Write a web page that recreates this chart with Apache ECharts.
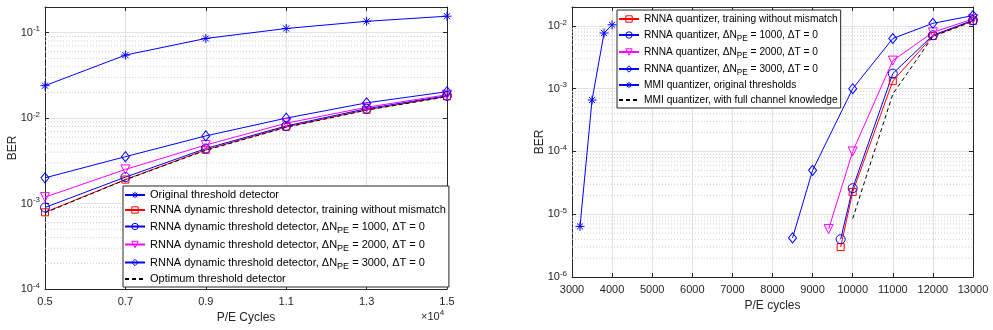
<!DOCTYPE html>
<html>
<head>
<meta charset="utf-8">
<script src="https://cdn.jsdelivr.net/npm/echarts@6/dist/echarts.min.js"></script>
<style>
  html, body { margin: 0; padding: 0; background: #fff; }
  #chart { width: 993px; height: 330px; }
</style>
</head>
<body>
<div id="chart"></div>
<script>
// left panel: detectors
var peLeft = [5000, 7000, 9000, 11000, 13000, 15000];
var berOrig = [0.024, 0.0547, 0.0857, 0.112, 0.136, 0.156];
var berTrain = [0.00079, 0.00191, 0.00426, 0.0079, 0.0125, 0.018];
var ber1000 = [0.0009, 0.00204, 0.00441, 0.0081, 0.0129, 0.0183];
var ber2000 = [0.00119, 0.00251, 0.00485, 0.00873, 0.0134, 0.0188];
var ber3000 = [0.0020, 0.00354, 0.0062, 0.0100, 0.0151, 0.0204];
var berOpt = [0.00078, 0.0019, 0.0042, 0.0078, 0.0124, 0.0178];

// right panel: quantizers
var qTrainPE = [9700, 10000, 11000, 12000, 13000];
var qTrain = [3.0e-6, 2.26e-5, 1.32e-3, 6.9e-3, 0.012];
var q1000PE = [9700, 10000, 11000, 12000, 13000];
var q1000 = [4.0e-6, 2.6e-5, 1.74e-3, 7.1e-3, 0.0123];
var q2000PE = [9400, 10000, 11000, 12000, 13000];
var q2000 = [5.8e-6, 1.0e-4, 2.8e-3, 7.9e-3, 0.0129];
var q3000PE = [8500, 9000, 10000, 11000, 12000, 13000];
var q3000 = [4.2e-6, 5.0e-5, 1.0e-3, 6.3e-3, 0.011, 0.0146];
var mmiOrigPE = [3200, 3500, 3800, 4000];
var mmiOrig = [6.4e-6, 6.6e-4, 7.7e-3, 0.0104];
var mmiFullPE = [10000, 11000, 12000, 13000];
var mmiFull = [8.5e-6, 8.2e-4, 6.8e-3, 0.0118];

var leftNames = [
  'Original threshold detector',
  'RNNA dynamic threshold detector, training without mismatch',
  'RNNA dynamic threshold detector, \u0394N_PE = 1000, \u0394T = 0',
  'RNNA dynamic threshold detector, \u0394N_PE = 2000, \u0394T = 0',
  'RNNA dynamic threshold detector, \u0394N_PE = 3000, \u0394T = 0',
  'Optimum threshold detector'
];
var rightNames = [
  'RNNA quantizer, training without mismatch',
  'RNNA quantizer, \u0394N_PE = 1000, \u0394T = 0',
  'RNNA quantizer, \u0394N_PE = 2000, \u0394T = 0',
  'RNNA quantizer, \u0394N_PE = 3000, \u0394T = 0',
  'MMI quantizer, original thresholds',
  'MMI quantizer, with full channel knowledge'
];

var FONT = 'Liberation Sans, Arial, Helvetica, sans-serif';
var AX = '#262626';
var BLUE = '#0000ff', RED = '#ff0000', MAG = '#ff00ff', BLK = '#000000';
var NOFILL = 'rgba(0,0,0,0)';
var STAR = 'path://M5,0L5,10M0,5L10,5M1.6,1.6L8.4,8.4M1.6,8.4L8.4,1.6';

function pairs(xs, ys) {
  return xs.map(function (x, i) { return [x, ys[i]]; });
}

// dotted minor grid at 2..9 x 10^e, drawn across the axis range
function minorGrid(xi, xmin, xmax, lo, hi, ymax) {
  var out = [];
  for (var e = lo; e < hi; e++) {
    for (var m = 2; m <= 9; m++) {
      var v = m * Math.pow(10, e);
      if (v >= ymax) continue;
      out.push({
        type: 'line', xAxisIndex: xi, yAxisIndex: xi * 2,
        data: [[xmin, v], [xmax, v]], symbol: 'none', silent: true,
        lineStyle: { color: '#cdcdcd', width: 1, type: [1, 2] },
        emphasis: { disabled: true }, z: 1, animation: false
      });
    }
  }
  return out;
}

function powLabel(v) {
  var e = Math.round(Math.log10(v));
  if (Math.abs(Math.log10(v) - e) > 1e-6) return '';
  return '10{sup|' + e + '}';
}

var labelRich = { sup: { fontSize: 8, fontFamily: FONT, color: AX, padding: [0, 0, 7, 0] } };

function legendFmt(name) {
  return name.replace('N_PE', 'N{sub|PE}');
}

function lineSeries(name, data, color, symbol, opts, xi) {
  var s = {
    name: name, type: 'line', data: data,
    xAxisIndex: xi, yAxisIndex: xi * 2,
    symbol: symbol, symbolSize: opts.size || 8,
    lineStyle: { color: color, width: 1, type: opts.dash ? [4, 3] : 'solid' },
    itemStyle: { color: NOFILL, borderColor: color, borderWidth: 1 },
    showSymbol: symbol !== 'none',
    emphasis: { disabled: true },
    z: 3,
    animation: false
  };
  if (opts.rotate) s.symbolRotate = opts.rotate;
  return s;
}

function baseX(grid, min, max, interval, fmt, name, gap) {
  return {
    type: 'value', gridIndex: grid, min: min, max: max, interval: interval,
    axisLine: { show: true, lineStyle: { color: AX } },
    axisTick: { inside: true, length: 4, lineStyle: { color: AX } },
    axisLabel: { color: AX, fontSize: 11, fontFamily: FONT, margin: 7, formatter: fmt },
    splitLine: { show: true, lineStyle: { color: '#e3e3e3' } },
    name: name, nameLocation: 'middle', nameGap: gap,
    nameTextStyle: { color: AX, fontSize: 12, fontFamily: FONT }
  };
}
function topX(grid, min, max, interval) {
  return {
    type: 'value', gridIndex: grid, position: 'top', min: min, max: max, interval: interval,
    axisLine: { show: true, lineStyle: { color: AX } },
    axisTick: { inside: true, length: 4, lineStyle: { color: AX } },
    axisLabel: { show: false }, splitLine: { show: false }
  };
}
function leftY(grid, min, max, gap) {
  return {
    type: 'log', logBase: 10, gridIndex: grid, min: min, max: max,
    axisLine: { show: true, lineStyle: { color: AX } },
    axisTick: { inside: true, length: 4, lineStyle: { color: AX } },
    axisLabel: { color: AX, fontSize: 11, fontFamily: FONT, margin: 5, formatter: powLabel, rich: labelRich },
    splitLine: { show: true, lineStyle: { color: '#e3e3e3' } },
    name: 'BER', nameLocation: 'middle', nameGap: gap, nameRotate: 90,
    nameMoveOverlap: false,
    nameTextStyle: { color: AX, fontSize: 12, fontFamily: FONT }
  };
}
function rightY(grid, min, max) {
  return {
    type: 'log', logBase: 10, gridIndex: grid, position: 'right', min: min, max: max,
    axisLine: { show: true, lineStyle: { color: AX } },
    axisTick: { inside: true, length: 4, lineStyle: { color: AX } },
    axisLabel: { show: false }, splitLine: { show: false }
  };
}

function legendData(names) {
  return names.map(function (n, i) {
    // dashed reference line has no marker
    if (i === names.length - 1) return { name: n, itemStyle: { opacity: 0 } };
    return { name: n };
  });
}

function legendBox(names, left, top, fs, lh, subPad) {
  return {
    data: legendData(names), orient: 'vertical', left: left, top: top,
    itemWidth: 20, itemHeight: 8, itemGap: 1, padding: [2, 3, 1, 1],
    backgroundColor: '#fff', borderColor: AX, borderWidth: 1, borderRadius: 0,
    selectedMode: false, formatter: legendFmt,
    itemStyle: { borderWidth: 1 },
    textStyle: {
      fontSize: fs, fontFamily: FONT, color: '#000', lineHeight: lh,
      rich: { sub: { fontSize: fs - 2, fontFamily: FONT, color: '#000', lineHeight: 10, padding: [subPad, 0, 0, 0] } }
    }
  };
}

var chart = echarts.init(document.getElementById('chart'), null, { renderer: 'canvas' });

var series = [].concat(
  minorGrid(0, 5000, 15000, -4, 0, 0.2),
  minorGrid(1, 3000, 13000, -6, -1, 0.02),
  [
    lineSeries(leftNames[0], pairs(peLeft, berOrig), BLUE, STAR, { size: 9 }, 0),
    lineSeries(leftNames[1], pairs(peLeft, berTrain), RED, 'rect', { size: 7 }, 0),
    lineSeries(leftNames[2], pairs(peLeft, ber1000), BLUE, 'circle', { size: 9 }, 0),
    lineSeries(leftNames[3], pairs(peLeft, ber2000), MAG, 'triangle', { size: 9, rotate: 180 }, 0),
    lineSeries(leftNames[4], pairs(peLeft, ber3000), BLUE, 'diamond', { size: [8, 10] }, 0),
    lineSeries(leftNames[5], pairs(peLeft, berOpt), BLK, 'none', { dash: true }, 0),
    lineSeries(rightNames[0], pairs(qTrainPE, qTrain), RED, 'rect', { size: 7 }, 1),
    lineSeries(rightNames[1], pairs(q1000PE, q1000), BLUE, 'circle', { size: 9 }, 1),
    lineSeries(rightNames[2], pairs(q2000PE, q2000), MAG, 'triangle', { size: 9, rotate: 180 }, 1),
    lineSeries(rightNames[3], pairs(q3000PE, q3000), BLUE, 'diamond', { size: [8, 10] }, 1),
    lineSeries(rightNames[4], pairs(mmiOrigPE, mmiOrig), BLUE, STAR, { size: 9 }, 1),
    lineSeries(rightNames[5], pairs(mmiFullPE, mmiFull), BLK, 'none', { dash: true }, 1)
  ]
);

chart.setOption({
  backgroundColor: '#fff',
  animation: false,
  grid: [
    { left: 45, right: 546, top: 7, bottom: 41 },
    { left: 572, right: 20, top: 7, bottom: 53 }
  ],
  xAxis: [
    baseX(0, 5000, 15000, 2000, function (v) { return (v / 10000).toFixed(1); }, 'P/E Cycles', 21),
    baseX(1, 3000, 13000, 1000, function (v) { return String(v); }, 'P/E cycles', 20),
    topX(0, 5000, 15000, 2000),
    topX(1, 3000, 13000, 1000)
  ],
  yAxis: [
    leftY(0, 1e-4, 0.2, 26),
    rightY(0, 1e-4, 0.2),
    leftY(1, 1e-6, 0.02, 26),
    rightY(1, 1e-6, 0.02)
  ],
  legend: [
    legendBox(leftNames, 123, 186, 11, 14, 8),
    legendBox(rightNames, 617, 10, 10.2, 14, 8)
  ],
  graphic: [
    {
      type: 'text', left: 421, top: 309,
      style: {
        text: '\u00d710{sup|4}', fill: AX, fontSize: 11, fontFamily: FONT,
        rich: { sup: { fontSize: 8, fontFamily: FONT, fill: AX, padding: [0, 0, 7, 0] } }
      }
    }
  ],
  series: series
});
</script>
</body>
</html>
